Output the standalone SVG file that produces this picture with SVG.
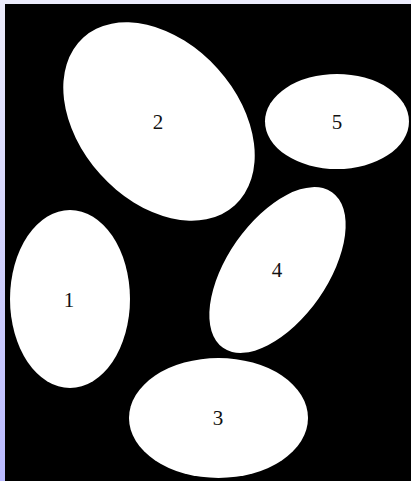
<svg xmlns="http://www.w3.org/2000/svg" width="411" height="481" viewBox="0 0 411 481">
<defs>
<linearGradient id="side" x1="0" y1="0" x2="0" y2="1">
<stop offset="0" stop-color="#ececfc"/>
<stop offset="1" stop-color="#babaff"/>
</linearGradient>
<style>
.n ellipse{fill:#ffffff;stroke:none}
.n text{font-family:"Liberation Serif","DejaVu Serif",serif;font-size:21px;fill:#111111;text-anchor:middle;dominant-baseline:central}
</style>
</defs>
<rect x="0" y="0" width="411" height="481" fill="#000000"/>
<rect x="0" y="0" width="411" height="4" fill="#ececfc"/>
<rect x="0" y="0" width="5" height="481" fill="url(#side)"/>
<g id="connectors"></g>
<g id="node2" class="n">
<ellipse cx="159" cy="121.5" rx="113" ry="79" transform="rotate(48 159 121.5)"/>
<text x="158" y="122">2</text>
</g>
<g id="node5" class="n">
<ellipse cx="337" cy="121.5" rx="72" ry="47.5"/>
<text x="337" y="122">5</text>
</g>
<g id="node1" class="n">
<ellipse cx="70" cy="299" rx="60" ry="89"/>
<text x="69" y="300">1</text>
</g>
<g id="node4" class="n">
<ellipse cx="277.5" cy="270" rx="95" ry="50" transform="rotate(-55 277.5 270)"/>
<text x="277" y="270">4</text>
</g>
<g id="node3" class="n">
<ellipse cx="218.5" cy="418" rx="89.5" ry="60"/>
<text x="218" y="418">3</text>
</g>
</svg>
